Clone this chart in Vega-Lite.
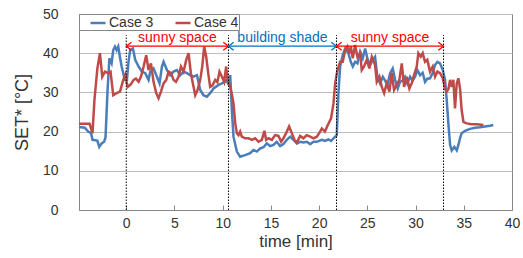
{
  "$schema": "https://vega.github.io/schema/vega-lite/v6.json",
  "autosize": {"type": "none"},
  "padding": {"left": 79, "top": 14, "right": 11, "bottom": 48},
  "width": 433,
  "height": 196,
  "background": "white",
  "config": {
    "font": "Liberation Sans",
    "view": {"stroke": "#868686", "strokeWidth": 1},
    "axis": {"labelColor": "#333333", "titleColor": "#333333", "labelFont": "Liberation Sans", "titleFont": "Liberation Sans", "titleFontWeight": "normal", "domainColor": "#868686", "tickColor": "#868686", "labelOverlap": false, "labelFlush": false}
  },
  "datasets": {
    "series": [
      {"t": -4.9, "set": 21.2, "case": "Case 3"},
      {"t": -4.3, "set": 21.0, "case": "Case 3"},
      {"t": -3.95, "set": 20.0, "case": "Case 3"},
      {"t": -3.65, "set": 19.6, "case": "Case 3"},
      {"t": -3.5, "set": 17.9, "case": "Case 3"},
      {"t": -3.0, "set": 17.7, "case": "Case 3"},
      {"t": -2.8, "set": 16.1, "case": "Case 3"},
      {"t": -2.55, "set": 17.0, "case": "Case 3"},
      {"t": -2.3, "set": 17.4, "case": "Case 3"},
      {"t": -2.15, "set": 18.5, "case": "Case 3"},
      {"t": -1.95, "set": 30.0, "case": "Case 3"},
      {"t": -1.75, "set": 38.7, "case": "Case 3"},
      {"t": -1.52, "set": 37.4, "case": "Case 3"},
      {"t": -1.35, "set": 40.8, "case": "Case 3"},
      {"t": -1.17, "set": 41.7, "case": "Case 3"},
      {"t": -1.0, "set": 40.8, "case": "Case 3"},
      {"t": -0.83, "set": 41.7, "case": "Case 3"},
      {"t": -0.66, "set": 39.1, "case": "Case 3"},
      {"t": -0.48, "set": 36.6, "case": "Case 3"},
      {"t": -0.31, "set": 34.9, "case": "Case 3"},
      {"t": -0.14, "set": 33.2, "case": "Case 3"},
      {"t": 0.07, "set": 33.2, "case": "Case 3"},
      {"t": 0.24, "set": 38.0, "case": "Case 3"},
      {"t": 0.41, "set": 40.8, "case": "Case 3"},
      {"t": 0.69, "set": 41.2, "case": "Case 3"},
      {"t": 0.93, "set": 38.3, "case": "Case 3"},
      {"t": 1.28, "set": 36.6, "case": "Case 3"},
      {"t": 1.62, "set": 35.3, "case": "Case 3"},
      {"t": 1.97, "set": 34.9, "case": "Case 3"},
      {"t": 2.31, "set": 33.2, "case": "Case 3"},
      {"t": 2.49, "set": 35.3, "case": "Case 3"},
      {"t": 2.83, "set": 36.1, "case": "Case 3"},
      {"t": 3.18, "set": 34.0, "case": "Case 3"},
      {"t": 3.45, "set": 32.3, "case": "Case 3"},
      {"t": 3.7, "set": 36.6, "case": "Case 3"},
      {"t": 3.87, "set": 37.8, "case": "Case 3"},
      {"t": 4.22, "set": 35.7, "case": "Case 3"},
      {"t": 4.56, "set": 34.4, "case": "Case 3"},
      {"t": 4.9, "set": 35.3, "case": "Case 3"},
      {"t": 5.25, "set": 35.7, "case": "Case 3"},
      {"t": 5.6, "set": 34.4, "case": "Case 3"},
      {"t": 5.94, "set": 35.3, "case": "Case 3"},
      {"t": 6.29, "set": 34.9, "case": "Case 3"},
      {"t": 6.63, "set": 34.4, "case": "Case 3"},
      {"t": 6.97, "set": 34.0, "case": "Case 3"},
      {"t": 7.33, "set": 34.4, "case": "Case 3"},
      {"t": 7.67, "set": 30.6, "case": "Case 3"},
      {"t": 8.01, "set": 29.3, "case": "Case 3"},
      {"t": 8.36, "set": 28.9, "case": "Case 3"},
      {"t": 8.7, "set": 29.8, "case": "Case 3"},
      {"t": 9.05, "set": 31.0, "case": "Case 3"},
      {"t": 9.57, "set": 31.9, "case": "Case 3"},
      {"t": 9.92, "set": 32.3, "case": "Case 3"},
      {"t": 10.26, "set": 32.7, "case": "Case 3"},
      {"t": 10.43, "set": 33.2, "case": "Case 3"},
      {"t": 10.6, "set": 31.9, "case": "Case 3"},
      {"t": 10.78, "set": 34.4, "case": "Case 3"},
      {"t": 10.95, "set": 25.5, "case": "Case 3"},
      {"t": 11.12, "set": 18.7, "case": "Case 3"},
      {"t": 11.47, "set": 14.9, "case": "Case 3"},
      {"t": 11.81, "set": 13.6, "case": "Case 3"},
      {"t": 12.33, "set": 14.0, "case": "Case 3"},
      {"t": 12.85, "set": 14.5, "case": "Case 3"},
      {"t": 13.2, "set": 15.3, "case": "Case 3"},
      {"t": 13.54, "set": 14.9, "case": "Case 3"},
      {"t": 13.89, "set": 15.7, "case": "Case 3"},
      {"t": 14.23, "set": 16.0, "case": "Case 3"},
      {"t": 14.58, "set": 17.0, "case": "Case 3"},
      {"t": 14.92, "set": 16.3, "case": "Case 3"},
      {"t": 15.27, "set": 16.6, "case": "Case 3"},
      {"t": 15.6, "set": 17.4, "case": "Case 3"},
      {"t": 15.96, "set": 16.3, "case": "Case 3"},
      {"t": 16.3, "set": 16.8, "case": "Case 3"},
      {"t": 16.65, "set": 17.9, "case": "Case 3"},
      {"t": 17.0, "set": 18.7, "case": "Case 3"},
      {"t": 17.34, "set": 17.9, "case": "Case 3"},
      {"t": 17.69, "set": 17.0, "case": "Case 3"},
      {"t": 18.03, "set": 17.4, "case": "Case 3"},
      {"t": 18.37, "set": 17.2, "case": "Case 3"},
      {"t": 18.72, "set": 17.4, "case": "Case 3"},
      {"t": 19.07, "set": 16.8, "case": "Case 3"},
      {"t": 19.41, "set": 17.4, "case": "Case 3"},
      {"t": 19.76, "set": 17.4, "case": "Case 3"},
      {"t": 20.28, "set": 17.9, "case": "Case 3"},
      {"t": 20.62, "set": 17.6, "case": "Case 3"},
      {"t": 20.97, "set": 18.0, "case": "Case 3"},
      {"t": 21.24, "set": 17.6, "case": "Case 3"},
      {"t": 21.49, "set": 18.3, "case": "Case 3"},
      {"t": 21.83, "set": 19.1, "case": "Case 3"},
      {"t": 22.0, "set": 29.8, "case": "Case 3"},
      {"t": 22.18, "set": 36.6, "case": "Case 3"},
      {"t": 22.45, "set": 39.5, "case": "Case 3"},
      {"t": 22.7, "set": 41.2, "case": "Case 3"},
      {"t": 23.04, "set": 40.0, "case": "Case 3"},
      {"t": 23.28, "set": 37.8, "case": "Case 3"},
      {"t": 23.49, "set": 36.6, "case": "Case 3"},
      {"t": 23.73, "set": 37.8, "case": "Case 3"},
      {"t": 23.97, "set": 37.4, "case": "Case 3"},
      {"t": 24.25, "set": 40.4, "case": "Case 3"},
      {"t": 24.52, "set": 38.7, "case": "Case 3"},
      {"t": 24.77, "set": 41.2, "case": "Case 3"},
      {"t": 25.0, "set": 38.7, "case": "Case 3"},
      {"t": 25.28, "set": 37.0, "case": "Case 3"},
      {"t": 25.56, "set": 38.3, "case": "Case 3"},
      {"t": 25.8, "set": 39.1, "case": "Case 3"},
      {"t": 26.04, "set": 34.0, "case": "Case 3"},
      {"t": 26.32, "set": 32.3, "case": "Case 3"},
      {"t": 26.6, "set": 34.0, "case": "Case 3"},
      {"t": 26.84, "set": 33.0, "case": "Case 3"},
      {"t": 27.08, "set": 31.9, "case": "Case 3"},
      {"t": 27.36, "set": 34.9, "case": "Case 3"},
      {"t": 27.63, "set": 36.1, "case": "Case 3"},
      {"t": 27.88, "set": 33.2, "case": "Case 3"},
      {"t": 28.15, "set": 31.0, "case": "Case 3"},
      {"t": 28.39, "set": 32.7, "case": "Case 3"},
      {"t": 28.65, "set": 33.0, "case": "Case 3"},
      {"t": 28.91, "set": 34.0, "case": "Case 3"},
      {"t": 29.15, "set": 32.3, "case": "Case 3"},
      {"t": 29.43, "set": 34.0, "case": "Case 3"},
      {"t": 29.69, "set": 33.0, "case": "Case 3"},
      {"t": 29.95, "set": 34.0, "case": "Case 3"},
      {"t": 30.19, "set": 35.7, "case": "Case 3"},
      {"t": 30.47, "set": 34.4, "case": "Case 3"},
      {"t": 30.74, "set": 35.0, "case": "Case 3"},
      {"t": 30.98, "set": 32.7, "case": "Case 3"},
      {"t": 31.22, "set": 33.5, "case": "Case 3"},
      {"t": 31.5, "set": 33.6, "case": "Case 3"},
      {"t": 31.78, "set": 35.0, "case": "Case 3"},
      {"t": 32.02, "set": 37.0, "case": "Case 3"},
      {"t": 32.26, "set": 37.8, "case": "Case 3"},
      {"t": 32.54, "set": 37.4, "case": "Case 3"},
      {"t": 32.82, "set": 35.7, "case": "Case 3"},
      {"t": 33.06, "set": 33.2, "case": "Case 3"},
      {"t": 33.23, "set": 28.1, "case": "Case 3"},
      {"t": 33.4, "set": 22.1, "case": "Case 3"},
      {"t": 33.58, "set": 16.6, "case": "Case 3"},
      {"t": 33.75, "set": 15.2, "case": "Case 3"},
      {"t": 34.02, "set": 16.1, "case": "Case 3"},
      {"t": 34.27, "set": 15.2, "case": "Case 3"},
      {"t": 34.44, "set": 16.6, "case": "Case 3"},
      {"t": 34.61, "set": 18.3, "case": "Case 3"},
      {"t": 34.78, "set": 19.6, "case": "Case 3"},
      {"t": 35.13, "set": 20.2, "case": "Case 3"},
      {"t": 35.65, "set": 20.7, "case": "Case 3"},
      {"t": 36.17, "set": 21.0, "case": "Case 3"},
      {"t": 36.68, "set": 21.1, "case": "Case 3"},
      {"t": 37.2, "set": 21.3, "case": "Case 3"},
      {"t": 37.72, "set": 21.5, "case": "Case 3"},
      {"t": 38.06, "set": 21.7, "case": "Case 3"},
      {"t": -4.9, "set": 22.0, "case": "Case 4"},
      {"t": -3.8, "set": 22.0, "case": "Case 4"},
      {"t": -3.5, "set": 19.6, "case": "Case 4"},
      {"t": -3.3, "set": 28.0, "case": "Case 4"},
      {"t": -3.0, "set": 36.0, "case": "Case 4"},
      {"t": -2.73, "set": 40.0, "case": "Case 4"},
      {"t": -2.49, "set": 34.0, "case": "Case 4"},
      {"t": -2.21, "set": 35.3, "case": "Case 4"},
      {"t": -1.87, "set": 34.9, "case": "Case 4"},
      {"t": -1.63, "set": 35.3, "case": "Case 4"},
      {"t": -1.35, "set": 29.3, "case": "Case 4"},
      {"t": -1.0, "set": 29.8, "case": "Case 4"},
      {"t": -0.65, "set": 30.2, "case": "Case 4"},
      {"t": -0.31, "set": 33.2, "case": "Case 4"},
      {"t": -0.1, "set": 34.5, "case": "Case 4"},
      {"t": 0.14, "set": 31.4, "case": "Case 4"},
      {"t": 0.45, "set": 32.0, "case": "Case 4"},
      {"t": 0.76, "set": 33.2, "case": "Case 4"},
      {"t": 1.0, "set": 33.5, "case": "Case 4"},
      {"t": 1.28, "set": 32.7, "case": "Case 4"},
      {"t": 1.52, "set": 34.0, "case": "Case 4"},
      {"t": 1.8, "set": 36.6, "case": "Case 4"},
      {"t": 2.07, "set": 39.5, "case": "Case 4"},
      {"t": 2.31, "set": 35.7, "case": "Case 4"},
      {"t": 2.56, "set": 37.4, "case": "Case 4"},
      {"t": 2.83, "set": 32.7, "case": "Case 4"},
      {"t": 3.11, "set": 29.8, "case": "Case 4"},
      {"t": 3.35, "set": 28.5, "case": "Case 4"},
      {"t": 3.6, "set": 30.2, "case": "Case 4"},
      {"t": 3.87, "set": 32.3, "case": "Case 4"},
      {"t": 4.15, "set": 33.2, "case": "Case 4"},
      {"t": 4.39, "set": 35.3, "case": "Case 4"},
      {"t": 4.65, "set": 34.9, "case": "Case 4"},
      {"t": 4.9, "set": 33.2, "case": "Case 4"},
      {"t": 5.15, "set": 32.7, "case": "Case 4"},
      {"t": 5.42, "set": 34.0, "case": "Case 4"},
      {"t": 5.67, "set": 36.6, "case": "Case 4"},
      {"t": 5.94, "set": 35.3, "case": "Case 4"},
      {"t": 6.22, "set": 38.3, "case": "Case 4"},
      {"t": 6.46, "set": 40.0, "case": "Case 4"},
      {"t": 6.7, "set": 34.9, "case": "Case 4"},
      {"t": 6.91, "set": 32.3, "case": "Case 4"},
      {"t": 7.15, "set": 29.3, "case": "Case 4"},
      {"t": 7.39, "set": 30.6, "case": "Case 4"},
      {"t": 7.67, "set": 33.2, "case": "Case 4"},
      {"t": 7.88, "set": 36.6, "case": "Case 4"},
      {"t": 8.08, "set": 41.7, "case": "Case 4"},
      {"t": 8.29, "set": 39.1, "case": "Case 4"},
      {"t": 8.5, "set": 34.9, "case": "Case 4"},
      {"t": 8.7, "set": 31.4, "case": "Case 4"},
      {"t": 8.95, "set": 31.8, "case": "Case 4"},
      {"t": 9.22, "set": 33.2, "case": "Case 4"},
      {"t": 9.45, "set": 32.6, "case": "Case 4"},
      {"t": 9.67, "set": 35.3, "case": "Case 4"},
      {"t": 9.92, "set": 34.0, "case": "Case 4"},
      {"t": 10.15, "set": 32.7, "case": "Case 4"},
      {"t": 10.36, "set": 36.6, "case": "Case 4"},
      {"t": 10.5, "set": 33.2, "case": "Case 4"},
      {"t": 10.78, "set": 31.4, "case": "Case 4"},
      {"t": 10.95, "set": 29.5, "case": "Case 4"},
      {"t": 11.12, "set": 27.2, "case": "Case 4"},
      {"t": 11.3, "set": 22.1, "case": "Case 4"},
      {"t": 11.47, "set": 19.6, "case": "Case 4"},
      {"t": 11.64, "set": 19.1, "case": "Case 4"},
      {"t": 11.81, "set": 20.0, "case": "Case 4"},
      {"t": 11.98, "set": 18.7, "case": "Case 4"},
      {"t": 12.33, "set": 18.3, "case": "Case 4"},
      {"t": 12.68, "set": 18.3, "case": "Case 4"},
      {"t": 13.03, "set": 17.9, "case": "Case 4"},
      {"t": 13.37, "set": 18.3, "case": "Case 4"},
      {"t": 13.71, "set": 17.4, "case": "Case 4"},
      {"t": 14.06, "set": 17.9, "case": "Case 4"},
      {"t": 14.33, "set": 20.2, "case": "Case 4"},
      {"t": 14.5, "set": 17.9, "case": "Case 4"},
      {"t": 14.75, "set": 18.3, "case": "Case 4"},
      {"t": 15.1, "set": 17.9, "case": "Case 4"},
      {"t": 15.44, "set": 19.1, "case": "Case 4"},
      {"t": 15.78, "set": 18.9, "case": "Case 4"},
      {"t": 16.06, "set": 17.4, "case": "Case 4"},
      {"t": 16.3, "set": 18.3, "case": "Case 4"},
      {"t": 16.65, "set": 20.0, "case": "Case 4"},
      {"t": 16.89, "set": 21.3, "case": "Case 4"},
      {"t": 17.1, "set": 20.0, "case": "Case 4"},
      {"t": 17.44, "set": 17.9, "case": "Case 4"},
      {"t": 17.69, "set": 17.2, "case": "Case 4"},
      {"t": 18.03, "set": 18.9, "case": "Case 4"},
      {"t": 18.37, "set": 18.3, "case": "Case 4"},
      {"t": 18.72, "set": 19.1, "case": "Case 4"},
      {"t": 19.07, "set": 18.7, "case": "Case 4"},
      {"t": 19.41, "set": 18.3, "case": "Case 4"},
      {"t": 19.76, "set": 18.7, "case": "Case 4"},
      {"t": 20.1, "set": 20.0, "case": "Case 4"},
      {"t": 20.28, "set": 20.8, "case": "Case 4"},
      {"t": 20.6, "set": 20.0, "case": "Case 4"},
      {"t": 20.9, "set": 21.7, "case": "Case 4"},
      {"t": 21.24, "set": 23.4, "case": "Case 4"},
      {"t": 21.49, "set": 27.2, "case": "Case 4"},
      {"t": 21.66, "set": 32.3, "case": "Case 4"},
      {"t": 21.9, "set": 35.7, "case": "Case 4"},
      {"t": 22.18, "set": 37.8, "case": "Case 4"},
      {"t": 22.45, "set": 37.8, "case": "Case 4"},
      {"t": 22.7, "set": 40.8, "case": "Case 4"},
      {"t": 22.93, "set": 41.7, "case": "Case 4"},
      {"t": 23.14, "set": 40.0, "case": "Case 4"},
      {"t": 23.28, "set": 41.7, "case": "Case 4"},
      {"t": 23.49, "set": 38.7, "case": "Case 4"},
      {"t": 23.73, "set": 42.1, "case": "Case 4"},
      {"t": 23.97, "set": 39.1, "case": "Case 4"},
      {"t": 24.25, "set": 40.0, "case": "Case 4"},
      {"t": 24.42, "set": 35.7, "case": "Case 4"},
      {"t": 24.66, "set": 36.6, "case": "Case 4"},
      {"t": 24.94, "set": 38.3, "case": "Case 4"},
      {"t": 25.21, "set": 36.1, "case": "Case 4"},
      {"t": 25.46, "set": 39.1, "case": "Case 4"},
      {"t": 25.8, "set": 37.0, "case": "Case 4"},
      {"t": 25.98, "set": 32.7, "case": "Case 4"},
      {"t": 26.25, "set": 34.0, "case": "Case 4"},
      {"t": 26.5, "set": 31.4, "case": "Case 4"},
      {"t": 26.74, "set": 29.8, "case": "Case 4"},
      {"t": 27.01, "set": 32.3, "case": "Case 4"},
      {"t": 27.29, "set": 30.2, "case": "Case 4"},
      {"t": 27.53, "set": 34.9, "case": "Case 4"},
      {"t": 27.77, "set": 30.6, "case": "Case 4"},
      {"t": 28.05, "set": 31.9, "case": "Case 4"},
      {"t": 28.32, "set": 33.2, "case": "Case 4"},
      {"t": 28.57, "set": 37.4, "case": "Case 4"},
      {"t": 28.81, "set": 31.4, "case": "Case 4"},
      {"t": 29.09, "set": 34.0, "case": "Case 4"},
      {"t": 29.36, "set": 31.0, "case": "Case 4"},
      {"t": 29.6, "set": 32.3, "case": "Case 4"},
      {"t": 29.84, "set": 34.4, "case": "Case 4"},
      {"t": 30.12, "set": 36.6, "case": "Case 4"},
      {"t": 30.29, "set": 40.0, "case": "Case 4"},
      {"t": 30.54, "set": 39.1, "case": "Case 4"},
      {"t": 30.74, "set": 40.0, "case": "Case 4"},
      {"t": 30.98, "set": 37.8, "case": "Case 4"},
      {"t": 31.22, "set": 38.3, "case": "Case 4"},
      {"t": 31.5, "set": 35.3, "case": "Case 4"},
      {"t": 31.78, "set": 36.6, "case": "Case 4"},
      {"t": 32.02, "set": 34.0, "case": "Case 4"},
      {"t": 32.26, "set": 35.3, "case": "Case 4"},
      {"t": 32.54, "set": 34.9, "case": "Case 4"},
      {"t": 32.82, "set": 33.6, "case": "Case 4"},
      {"t": 33.06, "set": 31.0, "case": "Case 4"},
      {"t": 33.23, "set": 30.2, "case": "Case 4"},
      {"t": 33.4, "set": 30.8, "case": "Case 4"},
      {"t": 33.58, "set": 33.2, "case": "Case 4"},
      {"t": 33.75, "set": 31.4, "case": "Case 4"},
      {"t": 33.92, "set": 33.2, "case": "Case 4"},
      {"t": 34.09, "set": 25.9, "case": "Case 4"},
      {"t": 34.27, "set": 32.3, "case": "Case 4"},
      {"t": 34.44, "set": 33.6, "case": "Case 4"},
      {"t": 34.61, "set": 31.0, "case": "Case 4"},
      {"t": 34.78, "set": 25.5, "case": "Case 4"},
      {"t": 34.96, "set": 22.5, "case": "Case 4"},
      {"t": 35.3, "set": 22.1, "case": "Case 4"},
      {"t": 35.82, "set": 21.9, "case": "Case 4"},
      {"t": 36.34, "set": 21.9, "case": "Case 4"},
      {"t": 37.03, "set": 21.7, "case": "Case 4"}
    ],
    "zones": [
      {"start": 0, "end": 10.6, "center": 5.3, "label": "sunny space", "zone": "sunny"},
      {"start": 10.6, "end": 21.8, "center": 16.2, "label": "building shade", "zone": "shade"},
      {"start": 21.8, "end": 32.9, "center": 27.35, "label": "sunny space", "zone": "sunny"}
    ],
    "marks": [{"t": 0}, {"t": 10.6}, {"t": 21.8}, {"t": 32.9}]
  },
  "resolve": {"scale": {"color": "independent"}},
  "layer": [
    {
      "data": {"name": "series"},
      "mark": {"type": "line", "strokeWidth": 2.5, "interpolate": "linear"},
      "encoding": {
        "x": {"field": "t", "type": "quantitative", "scale": {"domain": [-4.9, 40], "nice": false, "zero": false},
          "axis": {"values": [0, 5, 10, 15, 20, 25, 30, 35, 40], "title": "time [min]", "titleFontSize": 17, "titleFontWeight": "normal", "labelFontSize": 14, "grid": false, "tickSize": -5, "labelPadding": 11, "titlePadding": 3}},
        "y": {"field": "set", "type": "quantitative", "scale": {"domain": [0, 50], "nice": false, "zero": true},
          "axis": {"tickCount": 5, "title": "SET* [°C]", "titleFontSize": 18, "titleFontWeight": "normal", "labelFontSize": 14, "grid": true, "gridColor": "#bdbdbd", "gridOpacity": 1, "ticks": false, "labelPadding": 21, "titlePadding": 11}},
        "color": {"field": "case", "type": "nominal",
          "scale": {"domain": ["Case 3", "Case 4"], "range": ["#4a7ebb", "#be4b48"]},
          "legend": {"orient": "none", "legendX": 0, "legendY": 0, "direction": "horizontal", "title": " ", "titleOrient": "left", "titlePadding": 10, "titleFontSize": 6, "symbolType": "stroke", "symbolSize": 225, "symbolStrokeWidth": 2.5, "labelFontSize": 14, "labelColor": "#333333", "labelOffset": 2, "columnPadding": 16, "padding": 0, "strokeColor": "#868686", "fillColor": "white", "cornerRadius": 0}}
      }
    },
    {
      "data": {"name": "marks"},
      "mark": {"type": "rule", "color": "#000000", "strokeWidth": 1, "strokeDash": [1.5, 1.5]},
      "encoding": {
        "x": {"field": "t", "type": "quantitative"},
        "y": {"datum": 0, "type": "quantitative"},
        "y2": {"datum": 44.6}
      }
    },
    {
      "data": {"name": "zones"},
      "mark": {"type": "rule", "strokeWidth": 1.3},
      "encoding": {
        "x": {"field": "start", "type": "quantitative"},
        "x2": {"field": "end"},
        "y": {"datum": 41.8, "type": "quantitative"},
        "color": {"field": "zone", "type": "nominal", "scale": {"domain": ["sunny", "shade"], "range": ["#ff0000", "#0070c0"]}, "legend": null}
      }
    },
    {
      "data": {"name": "zones"},
      "mark": {"type": "point", "filled": false, "strokeWidth": 1.3, "opacity": 1, "shape": "M-1.3,-1L0,0L-1.3,1", "size": 64},
      "encoding": {
        "x": {"field": "end", "type": "quantitative"},
        "y": {"datum": 41.8, "type": "quantitative"},
        "color": {"field": "zone", "type": "nominal", "scale": {"domain": ["sunny", "shade"], "range": ["#ff0000", "#0070c0"]}, "legend": null}
      }
    },
    {
      "data": {"name": "zones"},
      "mark": {"type": "point", "filled": false, "strokeWidth": 1.3, "opacity": 1, "shape": "M1.3,-1L0,0L1.3,1", "size": 64},
      "encoding": {
        "x": {"field": "start", "type": "quantitative"},
        "y": {"datum": 41.8, "type": "quantitative"},
        "color": {"field": "zone", "type": "nominal", "scale": {"domain": ["sunny", "shade"], "range": ["#ff0000", "#0070c0"]}, "legend": null}
      }
    },
    {
      "data": {"name": "zones"},
      "mark": {"type": "text", "fontSize": 14, "baseline": "alphabetic", "dy": -4, "font": "Liberation Sans"},
      "encoding": {
        "x": {"field": "center", "type": "quantitative"},
        "y": {"datum": 41.8, "type": "quantitative"},
        "text": {"field": "label"},
        "color": {"field": "zone", "type": "nominal", "scale": {"domain": ["sunny", "shade"], "range": ["#ff0000", "#0070c0"]}, "legend": null}
      }
    }
  ]
}
